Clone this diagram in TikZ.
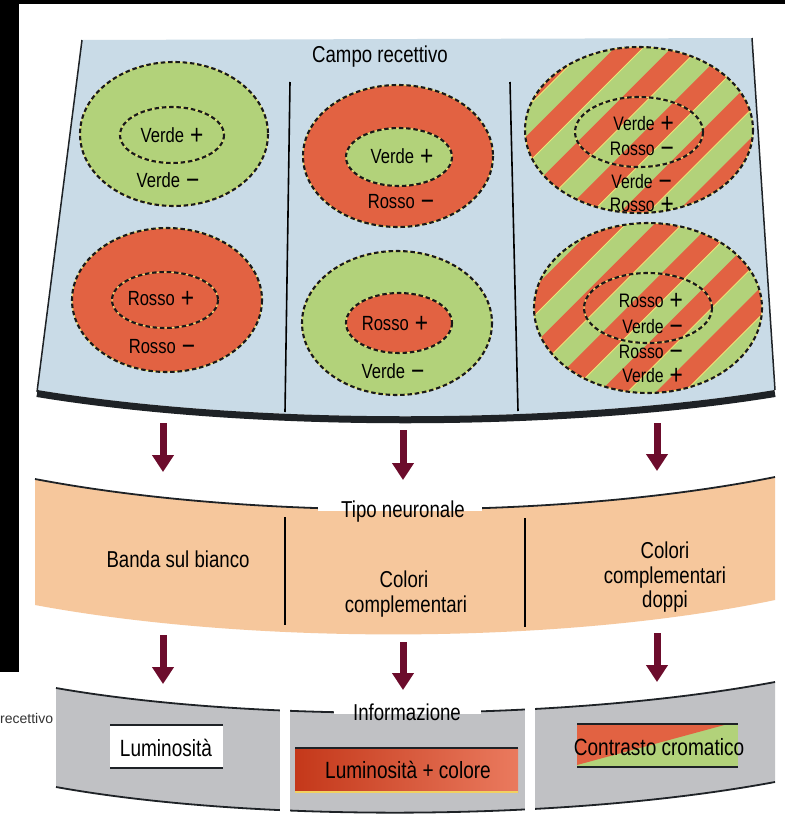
\documentclass[tikz,border=0pt]{standalone}
\usepackage{fontspec}
\setmainfont{Liberation Sans}[FakeStretch=0.81]
\newfontfamily\fragfont{Liberation Sans}
\usetikzlibrary{arrows.meta}

\definecolor{panelblue}{RGB}{201,219,231}
\definecolor{rfgreen}{RGB}{178,210,122}
\definecolor{rfred}{RGB}{226,98,66}
\definecolor{bandpeach}{RGB}{246,199,156}
\definecolor{bandgray}{RGB}{192,193,196}
\definecolor{arrowred}{RGB}{108,12,44}
\definecolor{edgedark}{RGB}{30,34,38}
\definecolor{stripeyellow}{RGB}{238,230,120}
\definecolor{lumdark}{RGB}{196,56,26}
\definecolor{lumlight}{RGB}{234,122,94}

% enlarged sign after a colour name (kept out of the line height)
\newcommand\rfplus{\hspace{0.3em}\smash{\raisebox{-2.5pt}{\fontsize{28}{28}\selectfont +}}}
\newcommand\rfminus{\hspace{0.3em}\smash{\raisebox{-2.5pt}{\fontsize{28}{28}\selectfont −}}}

% dashed outline of a receptive-field zone
\newcommand\dashoval[3]{%
  \draw[ovalglow] #1 ellipse [x radius=#2, y radius=#3];
  \draw[ovaldash] #1 ellipse [x radius=#2, y radius=#3];}

% diagonal red/green stripes inside an ellipse: cx, cy, rx, ry, phase
\newcommand\stripefill[5]{%
  \begin{scope}
    \clip (#1,#2) ellipse [x radius=#3, y radius=#4];
    \fill[rfgreen] (#1,#2) ellipse [x radius=#3, y radius=#4];
    \begin{scope}[shift={(#1,#2)}]
      \foreach \k in {-4,...,4}{
        \pgfmathsetmacro\du{#5+56.6*\k}
        \fill[rfred] (-220,\du+220) -- (220,\du-220) -- (220,\du-191.7) -- (-220,\du+248.3) -- cycle;
        \draw[stripeline] (-220,\du+248.3) -- (220,\du-191.7);
      }
    \end{scope}
  \end{scope}}

\begin{document}
\begin{tikzpicture}[x=1pt,y=-1pt,
  ovalglow/.style={draw=stripeyellow, line width=1pt},
  ovaldash/.style={draw=black!90, line width=2.1pt, dash pattern=on 4.5pt off 2.8pt},
  stripeline/.style={draw=stripeyellow, line width=0.9pt},
  rflabel/.style={inner sep=0pt, font=\fontsize{20.5}{21}\selectfont},
  stacklabel/.style={inner sep=0pt, font=\fontsize{19.5}{20}\selectfont},
  bandlabel/.style={inner sep=0pt, font=\fontsize{23}{24}\selectfont},
  boxlabel/.style={inner sep=0pt, font=\fontsize{23.5}{24}\selectfont},
  edgeline/.style={draw=edgedark, line width=1.8pt},
  divider/.style={draw=black, line width=1.6pt},
  downarrow/.style={draw=arrowred, line width=7pt, -{Triangle[length=17pt,width=21pt]}}]
\useasboundingbox (0,0) rectangle (785,830);
\fill[white] (0,0) rectangle (785,830);

% dark margins
\fill[black] (0,0) rectangle (785,4);
\fill[black] (0,0) rectangle (19,672);

% ---------- receptive field panel ----------
\fill[panelblue] (82,40) -- (752,38) -- (775,390) .. controls (560,425) and (250,425) .. (37,390) -- cycle;
\draw[draw=edgedark, line width=7pt] (37,393.5) .. controls (250,428.5) and (560,428.5) .. (775,393.5);
\draw[edgeline, line width=1.5pt] (82,40) -- (37,392);
\draw[edgeline, line width=1.5pt] (752,38) -- (775,390);
\draw[divider] (290,82) -- (285,412);
\draw[divider] (510,82) -- (518,411);
\node[bandlabel, anchor=base] (campo) at (380,62) {Campo recettivo};

% band on white, centre green
\fill[rfgreen] (174,134) ellipse [x radius=94, y radius=72];
\dashoval{(174,134)}{94}{72}
\dashoval{(172,135)}{52}{28}
\node[rflabel, anchor=base] (lt1) at (172,142) {Verde\rfplus};
\node[rflabel, anchor=base] (lt2) at (168,187) {Verde\rfminus};

% band on white, centre red
\fill[rfred] (167,300) ellipse [x radius=95, y radius=72];
\dashoval{(167,300)}{95}{72}
\dashoval{(165,300)}{53}{28}
\node[rflabel, anchor=base] (lb1) at (161,305) {Rosso\rfplus};
\node[rflabel, anchor=base] (lb2) at (162,353) {Rosso\rfminus};

% complementary, green centre
\fill[rfred] (398,156) ellipse [x radius=95, y radius=71];
\fill[rfgreen] (399,157) ellipse [x radius=53, y radius=29];
\dashoval{(398,156)}{95}{71}
\dashoval{(399,157)}{53}{29}
\node[rflabel, anchor=base] (mt1) at (402,163) {Verde\rfplus};
\node[rflabel, anchor=base] (mt2) at (401,208) {Rosso\rfminus};

% complementary, red centre
\fill[rfgreen] (397,323) ellipse [x radius=95, y radius=72];
\fill[rfred] (399,323) ellipse [x radius=53, y radius=30];
\dashoval{(397,323)}{95}{72}
\dashoval{(399,323)}{53}{30}
\node[rflabel, anchor=base] (mb1) at (395,330) {Rosso\rfplus};
\node[rflabel, anchor=base] (mb2) at (393,378) {Verde\rfminus};

% double opponent fields
\stripefill{639}{130}{114}{83}{-106.3}
\dashoval{(639,130)}{114}{83}
\dashoval{(639,132)}{64}{35}
\node[stacklabel, anchor=base east] (rt1) at (674,130) {Verde\rfplus};
\node[stacklabel, anchor=base east] (rt2) at (674,155) {Rosso\rfminus};
\node[stacklabel, anchor=base east] (rt3) at (672,188) {Verde\rfminus};
\node[stacklabel, anchor=base east] (rt4) at (674,211) {Rosso\rfplus};

\stripefill{648}{308}{114}{85}{-77.7}
\dashoval{(648,308)}{114}{85}
\dashoval{(648,308)}{64}{35}
\node[stacklabel, anchor=base east] (rb1) at (683,307) {Rosso\rfplus};
\node[stacklabel, anchor=base east] (rb2) at (683,333) {Verde\rfminus};
\node[stacklabel, anchor=base east] (rb3) at (683,358) {Rosso\rfminus};
\node[stacklabel, anchor=base east] (rb4) at (683,382) {Verde\rfplus};

% ---------- neuron type band ----------
\fill[bandpeach] (35,479) .. controls (250,520) and (560,520) .. (775,477)
  -- (775,600) .. controls (560,645) and (250,645) .. (35,605) -- cycle;
\draw[edgeline] (35,479) .. controls (250,520) and (560,520) .. (775,477);
\fill[white] (318,486) rectangle (482,511);
\node[bandlabel, anchor=base] (tipo) at (403,517) {Tipo neuronale};
\draw[divider, line width=2pt] (285,517) -- (285,625);
\draw[divider, line width=2pt] (525,518) -- (525,627);
\node[bandlabel, anchor=base] (banda) at (178,567) {Banda sul bianco};
\node[bandlabel, anchor=base] (cc1) at (404,587) {Colori};
\node[bandlabel, anchor=base] (cc2) at (406,612) {complementari};
\node[bandlabel, anchor=base] (cd1) at (665,558) {Colori};
\node[bandlabel, anchor=base] (cd2) at (665,583) {complementari};
\node[bandlabel, anchor=base] (cd3) at (665,607) {doppi};

% ---------- information band ----------
\fill[bandgray] (56,688) .. controls (250,722) and (560,722) .. (775,682)
  -- (775,782) .. controls (560,822) and (250,822) .. (56,787) -- cycle;
\draw[edgeline] (56,688) .. controls (250,722) and (560,722) .. (775,682);
\draw[edgeline] (56,787) .. controls (250,822) and (560,822) .. (775,782);
\fill[white] (280,680) rectangle (290,825);
\fill[white] (525,680) rectangle (535,825);
\fill[white] (334,694) rectangle (481,714);
\node[bandlabel, anchor=base] (info) at (407,720) {Informazione};

% luminance box
\fill[white] (110,725) rectangle (223,768);
\draw[edgeline, line width=1.5pt] (110,725) -- (223,725);
\draw[edgeline, line width=1.5pt] (110,768) -- (223,768);
\node[boxlabel, anchor=base] (lum) at (166,756) {Luminosità};

% luminance + colour box
\shade[left color=lumdark, right color=lumlight] (295,748) rectangle (518,792);
\draw[edgeline, line width=1.5pt] (295,748) -- (518,748);
\draw[draw=stripeyellow!80!orange, line width=1.5pt] (295,792) -- (518,792);
\node[boxlabel, anchor=base] (lumcol) at (408,778) {Luminosità + colore};

% chromatic contrast box
\fill[rfgreen] (577,724) rectangle (738,767);
\fill[rfred] (577,724) -- (728,724) -- (577,765) -- cycle;
\draw[edgeline, line width=1.5pt] (577,724) -- (738,724);
\draw[edgeline, line width=1.5pt] (577,767) -- (738,767);
\node[boxlabel, anchor=base] (contr) at (659,755) {Contrasto cromatico};

% fragment of caption at the left margin
\node[inner sep=0pt, anchor=west, text=black!80, font=\fragfont\fontsize{14}{15}\selectfont] (frag) at (0,718) {recettivo};

% ---------- arrows ----------
\coordinate (a1s) at (163,423); \coordinate (a1e) at (163,472);
\coordinate (a2s) at (403,430); \coordinate (a2e) at (403,480);
\coordinate (a3s) at (657,423); \coordinate (a3e) at (657,471);
\coordinate (b1s) at (163,635); \coordinate (b1e) at (163,684);
\coordinate (b2s) at (403,642); \coordinate (b2e) at (403,690);
\coordinate (b3s) at (657,633); \coordinate (b3e) at (657,682);
\draw[downarrow] (a1s) -- (a1e);
\draw[downarrow] (a2s) -- (a2e);
\draw[downarrow] (a3s) -- (a3e);
\draw[downarrow] (b1s) -- (b1e);
\draw[downarrow] (b2s) -- (b2e);
\draw[downarrow] (b3s) -- (b3e);
\end{tikzpicture}
\end{document}
